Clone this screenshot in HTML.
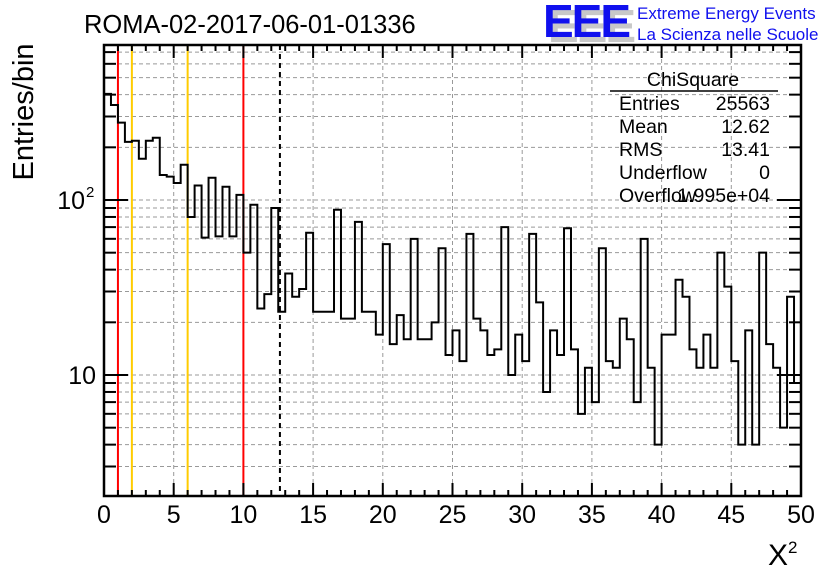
<!DOCTYPE html>
<html><head><meta charset="utf-8"><style>
body{margin:0;background:#fff}
svg text{font-family:"Liberation Sans",sans-serif}
</style></head><body>
<svg id="chart" width="836" height="572" viewBox="0 0 836 572" xmlns="http://www.w3.org/2000/svg">
<rect width="836" height="572" fill="#fff"/>
<g id="grid"></g>
<g id="vlines"></g>
<path id="hist" fill="none" stroke="#000" stroke-width="2"/>
<g id="axes"></g>
<text x="84" y="33" font-size="25.5">ROMA-02-2017-06-01-01336</text>
<text transform="translate(33,112) rotate(-90)" text-anchor="middle" font-size="29">Entries/bin</text>
<text x="768" y="565" font-size="30" font-family="Liberation Serif,serif">X<tspan font-size="17" dy="-12">2</tspan></text>
<g>
<text x="548" y="42" font-size="46" font-weight="bold" fill="#c8c8c8" letter-spacing="-2">EEE</text>
<text x="543" y="37" font-size="46" font-weight="bold" fill="#1010ee" letter-spacing="-2">EEE</text>
<text x="637" y="19" font-size="17" fill="#1010ee">Extreme Energy Events</text>
<text x="637" y="40" font-size="17" fill="#1010ee">La Scienza nelle Scuole</text>
</g>
<g id="stats" font-size="19.5">
<text x="693" y="86" text-anchor="middle">ChiSquare</text>
<line x1="610" y1="91" x2="778" y2="91" stroke="#000" stroke-width="1.5"/>
<text x="619" y="110">Entries</text><text x="770" y="110" text-anchor="end">25563</text>
<text x="619" y="133">Mean</text><text x="770" y="133" text-anchor="end">12.62</text>
<text x="619" y="156">RMS</text><text x="770" y="156" text-anchor="end">13.41</text>
<text x="619" y="179">Underflow</text><text x="770" y="179" text-anchor="end">0</text>
<text x="619" y="202">Overflow</text><text x="770" y="202" text-anchor="end">1.995e+04</text>
</g>
</svg>
<script>
const binEdgesStart = 0, binWidth = 0.5;
const counts = [404,349,277,215,218,172,218,227,139,136,125,159,80,121,61,134,62,119,62,107,
50,94,24,29,90,23,38,28,31,65,23,23,23,88,21,21,75,23,23,17,
56,15,22,16,60,16,16,20,53,13,18,12,64,21,18,13,14,70,10,17,
12,64,26,8,18,13,69,14,6,11,7,53,12,11,21,16,7,60,11,4,
17,17,35,28,14,11,17,11,50,32,12,4,18,4,50,15,11,5,28,9];
const xTicks = [0,5,10,15,20,25,30,35,40,45,50];
const refLinesRed = [1,10];
const refLinesOrange = [2,6];
const meanValue = 12.62;

const L=104,R=801,T=45,B=496;
const X=v=>L+(v/50)*(R-L);
const Y=v=>375-(Math.log10(v)-1)*175;
const NS="http://www.w3.org/2000/svg";
function mk(tag,attrs,parent){const e=document.createElementNS(NS,tag);for(const k in attrs)e.setAttribute(k,attrs[k]);parent.appendChild(e);return e;}
const grid=document.getElementById('grid'),axes=document.getElementById('axes'),vl=document.getElementById('vlines');
const yVals=[];for(let d=1;d<=100;d*=10)for(let m=1;m<10;m++){const v=m*d;if(Y(v)<B&&Y(v)>T)yVals.push(v);}
yVals.forEach(v=>{
 const l=mk('line',{x1:L,x2:R,y1:Y(v),y2:Y(v),stroke:'#999','stroke-dasharray':'4,3','stroke-width':1},grid);
 
 
 const major=(v===10||v===100);
 const len=major?24:12;
 mk('line',{x1:L,x2:L+len,y1:Y(v),y2:Y(v),stroke:'#000','stroke-width':2},axes);
 mk('line',{x1:R,x2:R-len,y1:Y(v),y2:Y(v),stroke:'#000','stroke-width':2},axes);
});
xTicks.forEach(v=>{
 if(v>0&&v<50){const l=mk('line',{x1:X(v),x2:X(v),y1:T,y2:B,stroke:'#999','stroke-dasharray':'4,3','stroke-width':1},grid);
 
 }
 const t=mk('text',{x:X(v),y:523,'text-anchor':'middle','font-size':25},axes);t.textContent=v;
 
 
});
for(let v=0;v<=50;v++){const len=v%5===0?13:6;
 mk('line',{x1:X(v),x2:X(v),y1:B,y2:B-len,stroke:'#000','stroke-width':2},axes);
 mk('line',{x1:X(v),x2:X(v),y1:T,y2:T+len,stroke:'#000','stroke-width':2},axes);}
mk('rect',{x:L,y:T,width:R-L,height:B-T,fill:'none',stroke:'#000','stroke-width':2.5},axes);
let t1=mk('text',{x:96,y:Y(10)+9,'text-anchor':'end','font-size':25},axes);t1.textContent='10';


let t2=mk('text',{x:85,y:Y(100)+9,'text-anchor':'end','font-size':25},axes);t2.textContent='10';


let t3=mk('text',{x:86,y:Y(100)-3,'font-size':15},axes);t3.textContent='2';
refLinesRed.forEach(v=>{const l=mk('line',{x1:X(v),x2:X(v),y1:T,y2:B,stroke:'#ff0000','stroke-width':2},vl);
 
 });
refLinesOrange.forEach(v=>{const l=mk('line',{x1:X(v),x2:X(v),y1:T,y2:B,stroke:'#ffcc00','stroke-width':2},vl);
 
 });
const ml=mk('line',{x1:X(meanValue),x2:X(meanValue),y1:T,y2:B,stroke:'#000','stroke-width':2,'stroke-dasharray':'5,4'},vl);


let d='';
counts.forEach((c,i)=>{const x0=X(binEdgesStart+i*binWidth),x1=X(binEdgesStart+(i+1)*binWidth),y=Math.min(Math.max(Y(c),T),B);
 d+=(i===0?'M':'L')+x0+','+y+'L'+x1+','+y;});
document.getElementById('hist').setAttribute('d',d);
</script>
</body></html>
